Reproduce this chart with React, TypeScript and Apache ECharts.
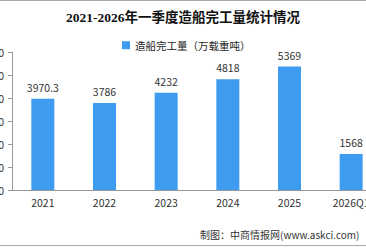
import React, { useEffect, useRef } from "react";
import * as echarts from "echarts";

const categories = ["2021", "2022", "2023", "2024", "2025", "2026Q1"];
const completions = [3970.3, 3786, 4232, 4818, 5369, 1568];
const seriesName = "造船完工量（万载重吨）";
const titleText = "2021-2026年一季度造船完工量统计情况";
const sourceText = "制图：中商情报网(www.askci.com)";

// the chart canvas is wider than the page and shifted left, so the axis labels fall off the edge
const SHIFT = 40;
const WIDTH = 366 + SHIFT * 2;

export default function App() {
  const ref = useRef<HTMLDivElement>(null);

  useEffect(() => {
    if (!ref.current) return;
    const chart = echarts.init(ref.current, undefined, { renderer: "svg" });
    const cjk = "'Noto Sans CJK SC', sans-serif";
    chart.setOption({
      animation: false,
      backgroundColor: "#ffffff",
      title: {
        text: titleText,
        left: "center",
        top: 6,
        textStyle: {
          fontFamily: "'Liberation Serif', 'Noto Sans CJK SC', serif",
          fontWeight: "bold",
          fontSize: 13.5,
          color: "#111",
        },
      },
      legend: {
        data: [seriesName],
        left: 117 + SHIFT,
        top: 35,
        itemWidth: 8,
        itemHeight: 8,
        icon: "rect",
        textStyle: { fontFamily: cjk, fontSize: 10.5, color: "#222" },
      },
      grid: { left: 12 + SHIFT, top: 52, width: 370, height: 138 },
      xAxis: {
        type: "category",
        data: categories,
        axisLine: { lineStyle: { color: "#999" } },
        axisTick: { length: 4, lineStyle: { color: "#999" } },
        axisLabel: { fontFamily: cjk, fontSize: 10.5, color: "#333", margin: 7 },
      },
      yAxis: {
        type: "value",
        min: 0,
        max: 6000,
        interval: 1000,
        splitLine: { show: false },
        axisLine: { show: true, lineStyle: { color: "#999" } },
        axisTick: { show: true, length: 4, lineStyle: { color: "#999" } },
        axisLabel: { fontFamily: cjk, fontSize: 10.5, color: "#333", margin: 8 },
      },
      series: [
        {
          name: seriesName,
          type: "bar",
          data: completions,
          barWidth: 23,
          itemStyle: { color: "#3d9bf0" },
          label: {
            show: true,
            position: "top",
            distance: 6,
            fontFamily: cjk,
            fontSize: 10.5,
            color: "#333",
            formatter: (p: any) => String(p.value),
          },
        },
      ],
      graphic: [
        {
          type: "text",
          left: 200 + SHIFT,
          top: 229,
          style: { text: sourceText, fontFamily: cjk, fontSize: 10, fill: "#333" },
        },
        {
          type: "line",
          shape: { x1: 0, y1: 0.5, x2: WIDTH, y2: 0.5 },
          style: { stroke: "#aaa", lineWidth: 1 },
        },
        {
          type: "line",
          shape: { x1: 0, y1: 245.5, x2: WIDTH, y2: 245.5 },
          style: { stroke: "#aaa", lineWidth: 1 },
        },
      ],
    });
    return () => chart.dispose();
  }, []);

  return (
    <div
      style={{
        position: "fixed",
        left: 0,
        top: 0,
        width: 366,
        height: 248,
        overflow: "hidden",
        background: "#fff",
      }}
    >
      <div
        ref={ref}
        style={{ position: "absolute", left: -SHIFT, top: 0, width: WIDTH, height: 248 }}
      />
    </div>
  );
}
